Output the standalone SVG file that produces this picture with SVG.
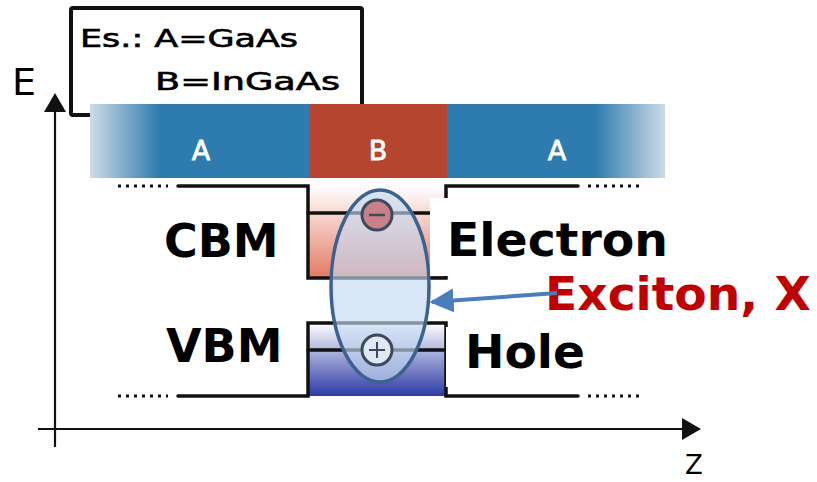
<svg xmlns="http://www.w3.org/2000/svg" width="817" height="482" viewBox="0 0 817 482">
<defs>
<style>
.hand{font-family:"DejaVu Sans","Liberation Sans",sans-serif;}
.lbl{font-family:"DejaVu Sans","Liberation Sans",sans-serif;font-weight:bold;font-size:46px;fill:#000;}
.band{font-family:"DejaVu Sans","Liberation Sans",sans-serif;font-size:27px;fill:#fff;text-anchor:middle;stroke:#fff;stroke-width:0.8;}
.ln{stroke:#111;stroke-width:3.5;fill:none;stroke-linecap:round;}
.dots{stroke:#111;stroke-width:3;fill:none;stroke-dasharray:3 5;}
.axis{stroke:#111;stroke-width:2.2;fill:none;}
</style>
<linearGradient id="gL" x1="90" y1="0" x2="160" y2="0" gradientUnits="userSpaceOnUse">
<stop offset="0" stop-color="#cddbe7"/><stop offset="1" stop-color="#2e7bb0"/>
</linearGradient>
<linearGradient id="gR" x1="595" y1="0" x2="665" y2="0" gradientUnits="userSpaceOnUse">
<stop offset="0" stop-color="#2e7bb0"/><stop offset="1" stop-color="#cddbe7"/>
</linearGradient>
<linearGradient id="gCB" x1="0" y1="0" x2="0" y2="1">
<stop offset="0" stop-color="#ffffff"/><stop offset="1" stop-color="#e47a62"/>
</linearGradient>
<linearGradient id="gVB" x1="0" y1="0" x2="0" y2="1">
<stop offset="0" stop-color="#ffffff"/><stop offset="1" stop-color="#2c3aa6"/>
</linearGradient>
<marker id="ah" viewBox="0 0 10 10" refX="9" refY="5" markerWidth="6" markerHeight="6" markerUnits="strokeWidth" orient="auto">
<path d="M0,0 L10,5 L0,10 z" fill="#4a7ebb"/>
</marker>
</defs>
<rect width="817" height="482" fill="#fff"/>

<g id="axes">
<line class="axis" x1="55" y1="108" x2="55" y2="447"/>
<polygon points="55,93 44,112 66,112" fill="#111"/>
<line class="axis" x1="38" y1="429" x2="684" y2="429"/>
<polygon points="701,429 682,418 682,440" fill="#111"/>
<text class="hand" x="12" y="95" font-size="38">E</text>
<text class="hand" x="685" y="474" font-size="26">Z</text>
</g>

<g id="legend">
<rect x="71" y="8" width="291" height="107" rx="2" fill="#fff" stroke="#111" stroke-width="4"/>
<text class="hand" x="80" y="47" font-size="24" textLength="218" lengthAdjust="spacingAndGlyphs" stroke="#000" stroke-width="0.6">Es.: A=GaAs</text>
<text class="hand" x="155" y="90" font-size="24" textLength="185" lengthAdjust="spacingAndGlyphs" stroke="#000" stroke-width="0.6">B=InGaAs</text>
</g>

<g id="material-band">
<rect x="90" y="104" width="220" height="74" fill="url(#gL)"/>
<rect x="310" y="104" width="137" height="74" fill="#b5452f"/>
<rect x="447" y="104" width="218" height="74" fill="url(#gR)"/>
<text class="band" x="201" y="160">A</text>
<text class="band" x="378" y="160">B</text>
<text class="band" x="557" y="160">A</text>
</g>

<g id="conduction-band">
<rect x="308" y="186" width="138" height="92" fill="url(#gCB)"/>
<path class="ln" d="M178,186 H308 V278 H446 V186 H578"/>
<line class="ln" x1="308" y1="213" x2="446" y2="213"/>
<line class="dots" x1="118" y1="186" x2="168" y2="186"/>
<line class="dots" x1="588" y1="186" x2="640" y2="186"/>
</g>

<g id="valence-band">
<rect x="308" y="323" width="138" height="73" fill="url(#gVB)"/>
<path class="ln" d="M178,396 H308 V323 H446 V396 H578"/>
<line class="ln" x1="308" y1="350" x2="446" y2="350"/>
<line class="dots" x1="118" y1="396" x2="168" y2="396"/>
<line class="dots" x1="588" y1="396" x2="640" y2="396"/>
</g>

<g id="exciton">
<ellipse cx="380" cy="286" rx="49" ry="96" fill="#c5d9f1" fill-opacity="0.65"/>
<circle cx="377" cy="215" r="15" fill="#c98088" stroke="#3d4a5c" stroke-width="3"/>
<line x1="369" y1="215" x2="385" y2="215" stroke="#3d4a5c" stroke-width="2.5"/>
<circle cx="377" cy="350" r="15" fill="#dfe8f3" stroke="#3d4a5c" stroke-width="3"/>
<line x1="369" y1="350" x2="385" y2="350" stroke="#3d4a5c" stroke-width="2"/>
<line x1="377" y1="342" x2="377" y2="358" stroke="#3d4a5c" stroke-width="2"/>
<ellipse cx="380" cy="286" rx="49" ry="96" fill="none" stroke="#3c6390" stroke-width="3.5"/>
</g>

<g id="label-cbm"><text class="lbl" x="164" y="257">CBM</text></g>
<g id="label-vbm"><text class="lbl" x="166" y="362">VBM</text></g>
<g id="label-electron">
<rect x="430" y="198" width="250" height="78" fill="#fff"/>
<text class="lbl" x="447" y="256" textLength="221" lengthAdjust="spacingAndGlyphs">Electron</text>
</g>
<g id="label-hole">
<rect x="446" y="327" width="150" height="60" fill="#fff"/>
<text class="lbl" x="465" y="368" textLength="120" lengthAdjust="spacingAndGlyphs">Hole</text>
</g>
<g id="label-exciton">
<text class="lbl" x="545" y="310" textLength="266" lengthAdjust="spacingAndGlyphs" style="fill:#c00000">Exciton, X</text>
</g>

<g id="connectors">
<line x1="557" y1="293" x2="432" y2="302" stroke="#4a7ebb" stroke-width="4" marker-end="url(#ah)"/>
</g>
</svg>
